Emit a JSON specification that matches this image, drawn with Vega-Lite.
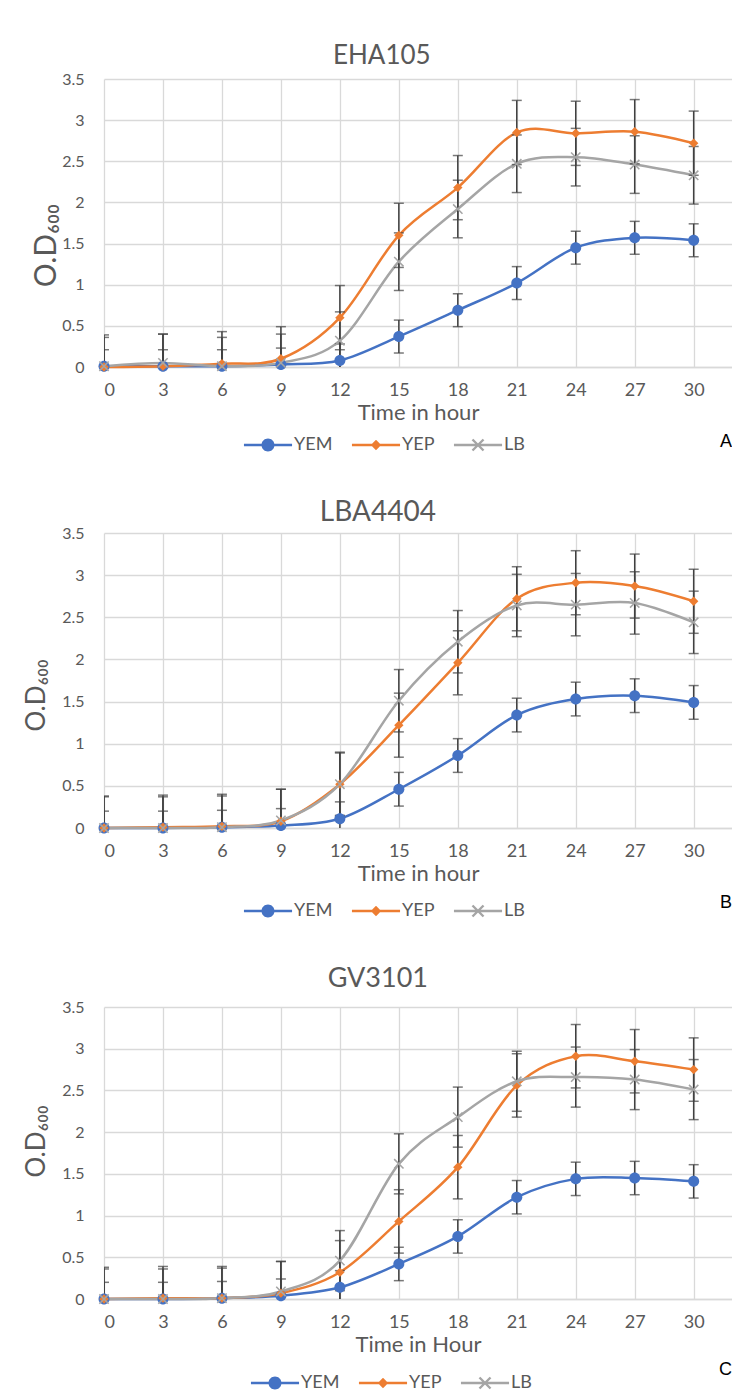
{
  "$schema": "https://vega.github.io/schema/vega-lite/v6.json",
  "background": "white",
  "padding": {"left": 23, "top": 43, "right": 0, "bottom": 0},
  "spacing": 45,
  "resolve": {"scale": {"color": "independent", "shape": "independent"}, "legend": {"color": "independent", "shape": "independent"}},
  "datasets": {
    "growth": [
      {"strain": "EHA105", "medium": "YEM", "hour": 0, "od": 0.01, "lo": -0.19, "hi": 0.21},
      {"strain": "EHA105", "medium": "YEM", "hour": 3, "od": 0.01, "lo": -0.19, "hi": 0.21},
      {"strain": "EHA105", "medium": "YEM", "hour": 6, "od": 0.01, "lo": -0.19, "hi": 0.21},
      {"strain": "EHA105", "medium": "YEM", "hour": 9, "od": 0.03, "lo": -0.17, "hi": 0.23},
      {"strain": "EHA105", "medium": "YEM", "hour": 12, "od": 0.08, "lo": -0.12, "hi": 0.28},
      {"strain": "EHA105", "medium": "YEM", "hour": 15, "od": 0.37, "lo": 0.17, "hi": 0.57},
      {"strain": "EHA105", "medium": "YEM", "hour": 18, "od": 0.69, "lo": 0.49, "hi": 0.89},
      {"strain": "EHA105", "medium": "YEM", "hour": 21, "od": 1.02, "lo": 0.82, "hi": 1.22},
      {"strain": "EHA105", "medium": "YEM", "hour": 24, "od": 1.45, "lo": 1.25, "hi": 1.65},
      {"strain": "EHA105", "medium": "YEM", "hour": 27, "od": 1.57, "lo": 1.37, "hi": 1.77},
      {"strain": "EHA105", "medium": "YEM", "hour": 30, "od": 1.54, "lo": 1.34, "hi": 1.74},
      {"strain": "EHA105", "medium": "YEP", "hour": 0, "od": 0.0, "lo": -0.39, "hi": 0.39},
      {"strain": "EHA105", "medium": "YEP", "hour": 3, "od": 0.01, "lo": -0.38, "hi": 0.40},
      {"strain": "EHA105", "medium": "YEP", "hour": 6, "od": 0.04, "lo": -0.35, "hi": 0.43},
      {"strain": "EHA105", "medium": "YEP", "hour": 9, "od": 0.10, "lo": -0.29, "hi": 0.49},
      {"strain": "EHA105", "medium": "YEP", "hour": 12, "od": 0.60, "lo": 0.21, "hi": 0.99},
      {"strain": "EHA105", "medium": "YEP", "hour": 15, "od": 1.60, "lo": 1.21, "hi": 1.99},
      {"strain": "EHA105", "medium": "YEP", "hour": 18, "od": 2.18, "lo": 1.79, "hi": 2.57},
      {"strain": "EHA105", "medium": "YEP", "hour": 21, "od": 2.85, "lo": 2.46, "hi": 3.24},
      {"strain": "EHA105", "medium": "YEP", "hour": 24, "od": 2.84, "lo": 2.45, "hi": 3.23},
      {"strain": "EHA105", "medium": "YEP", "hour": 27, "od": 2.86, "lo": 2.47, "hi": 3.25},
      {"strain": "EHA105", "medium": "YEP", "hour": 30, "od": 2.72, "lo": 2.33, "hi": 3.11},
      {"strain": "EHA105", "medium": "LB", "hour": 0, "od": 0.01, "lo": -0.34, "hi": 0.36},
      {"strain": "EHA105", "medium": "LB", "hour": 3, "od": 0.05, "lo": -0.30, "hi": 0.40},
      {"strain": "EHA105", "medium": "LB", "hour": 6, "od": 0.01, "lo": -0.34, "hi": 0.36},
      {"strain": "EHA105", "medium": "LB", "hour": 9, "od": 0.05, "lo": -0.30, "hi": 0.40},
      {"strain": "EHA105", "medium": "LB", "hour": 12, "od": 0.32, "lo": -0.03, "hi": 0.67},
      {"strain": "EHA105", "medium": "LB", "hour": 15, "od": 1.28, "lo": 0.93, "hi": 1.63},
      {"strain": "EHA105", "medium": "LB", "hour": 18, "od": 1.92, "lo": 1.57, "hi": 2.27},
      {"strain": "EHA105", "medium": "LB", "hour": 21, "od": 2.47, "lo": 2.12, "hi": 2.82},
      {"strain": "EHA105", "medium": "LB", "hour": 24, "od": 2.55, "lo": 2.20, "hi": 2.90},
      {"strain": "EHA105", "medium": "LB", "hour": 27, "od": 2.46, "lo": 2.11, "hi": 2.81},
      {"strain": "EHA105", "medium": "LB", "hour": 30, "od": 2.33, "lo": 1.98, "hi": 2.68},

      {"strain": "LBA4404", "medium": "YEM", "hour": 0, "od": 0.0, "lo": -0.20, "hi": 0.20},
      {"strain": "LBA4404", "medium": "YEM", "hour": 3, "od": 0.0, "lo": -0.20, "hi": 0.20},
      {"strain": "LBA4404", "medium": "YEM", "hour": 6, "od": 0.01, "lo": -0.19, "hi": 0.21},
      {"strain": "LBA4404", "medium": "YEM", "hour": 9, "od": 0.03, "lo": -0.17, "hi": 0.23},
      {"strain": "LBA4404", "medium": "YEM", "hour": 12, "od": 0.11, "lo": -0.09, "hi": 0.31},
      {"strain": "LBA4404", "medium": "YEM", "hour": 15, "od": 0.46, "lo": 0.26, "hi": 0.66},
      {"strain": "LBA4404", "medium": "YEM", "hour": 18, "od": 0.86, "lo": 0.66, "hi": 1.06},
      {"strain": "LBA4404", "medium": "YEM", "hour": 21, "od": 1.34, "lo": 1.14, "hi": 1.54},
      {"strain": "LBA4404", "medium": "YEM", "hour": 24, "od": 1.53, "lo": 1.33, "hi": 1.73},
      {"strain": "LBA4404", "medium": "YEM", "hour": 27, "od": 1.57, "lo": 1.37, "hi": 1.77},
      {"strain": "LBA4404", "medium": "YEM", "hour": 30, "od": 1.49, "lo": 1.29, "hi": 1.69},
      {"strain": "LBA4404", "medium": "YEP", "hour": 0, "od": 0.0, "lo": -0.38, "hi": 0.38},
      {"strain": "LBA4404", "medium": "YEP", "hour": 3, "od": 0.01, "lo": -0.37, "hi": 0.39},
      {"strain": "LBA4404", "medium": "YEP", "hour": 6, "od": 0.02, "lo": -0.36, "hi": 0.40},
      {"strain": "LBA4404", "medium": "YEP", "hour": 9, "od": 0.08, "lo": -0.30, "hi": 0.46},
      {"strain": "LBA4404", "medium": "YEP", "hour": 12, "od": 0.52, "lo": 0.14, "hi": 0.90},
      {"strain": "LBA4404", "medium": "YEP", "hour": 15, "od": 1.22, "lo": 0.84, "hi": 1.60},
      {"strain": "LBA4404", "medium": "YEP", "hour": 18, "od": 1.96, "lo": 1.58, "hi": 2.34},
      {"strain": "LBA4404", "medium": "YEP", "hour": 21, "od": 2.72, "lo": 2.34, "hi": 3.10},
      {"strain": "LBA4404", "medium": "YEP", "hour": 24, "od": 2.91, "lo": 2.53, "hi": 3.29},
      {"strain": "LBA4404", "medium": "YEP", "hour": 27, "od": 2.87, "lo": 2.49, "hi": 3.25},
      {"strain": "LBA4404", "medium": "YEP", "hour": 30, "od": 2.69, "lo": 2.31, "hi": 3.07},
      {"strain": "LBA4404", "medium": "LB", "hour": 0, "od": 0.0, "lo": -0.37, "hi": 0.37},
      {"strain": "LBA4404", "medium": "LB", "hour": 3, "od": 0.0, "lo": -0.37, "hi": 0.37},
      {"strain": "LBA4404", "medium": "LB", "hour": 6, "od": 0.01, "lo": -0.36, "hi": 0.38},
      {"strain": "LBA4404", "medium": "LB", "hour": 9, "od": 0.09, "lo": -0.28, "hi": 0.46},
      {"strain": "LBA4404", "medium": "LB", "hour": 12, "od": 0.52, "lo": 0.15, "hi": 0.89},
      {"strain": "LBA4404", "medium": "LB", "hour": 15, "od": 1.51, "lo": 1.14, "hi": 1.88},
      {"strain": "LBA4404", "medium": "LB", "hour": 18, "od": 2.21, "lo": 1.84, "hi": 2.58},
      {"strain": "LBA4404", "medium": "LB", "hour": 21, "od": 2.64, "lo": 2.27, "hi": 3.01},
      {"strain": "LBA4404", "medium": "LB", "hour": 24, "od": 2.65, "lo": 2.28, "hi": 3.02},
      {"strain": "LBA4404", "medium": "LB", "hour": 27, "od": 2.67, "lo": 2.30, "hi": 3.04},
      {"strain": "LBA4404", "medium": "LB", "hour": 30, "od": 2.44, "lo": 2.07, "hi": 2.81},

      {"strain": "GV3101", "medium": "YEM", "hour": 0, "od": 0.0, "lo": -0.20, "hi": 0.20},
      {"strain": "GV3101", "medium": "YEM", "hour": 3, "od": 0.0, "lo": -0.20, "hi": 0.20},
      {"strain": "GV3101", "medium": "YEM", "hour": 6, "od": 0.01, "lo": -0.19, "hi": 0.21},
      {"strain": "GV3101", "medium": "YEM", "hour": 9, "od": 0.04, "lo": -0.16, "hi": 0.24},
      {"strain": "GV3101", "medium": "YEM", "hour": 12, "od": 0.14, "lo": -0.06, "hi": 0.34},
      {"strain": "GV3101", "medium": "YEM", "hour": 15, "od": 0.42, "lo": 0.22, "hi": 0.62},
      {"strain": "GV3101", "medium": "YEM", "hour": 18, "od": 0.75, "lo": 0.55, "hi": 0.95},
      {"strain": "GV3101", "medium": "YEM", "hour": 21, "od": 1.22, "lo": 1.02, "hi": 1.42},
      {"strain": "GV3101", "medium": "YEM", "hour": 24, "od": 1.44, "lo": 1.24, "hi": 1.64},
      {"strain": "GV3101", "medium": "YEM", "hour": 27, "od": 1.45, "lo": 1.25, "hi": 1.65},
      {"strain": "GV3101", "medium": "YEM", "hour": 30, "od": 1.41, "lo": 1.21, "hi": 1.61},
      {"strain": "GV3101", "medium": "YEP", "hour": 0, "od": 0.0, "lo": -0.38, "hi": 0.38},
      {"strain": "GV3101", "medium": "YEP", "hour": 3, "od": 0.01, "lo": -0.37, "hi": 0.39},
      {"strain": "GV3101", "medium": "YEP", "hour": 6, "od": 0.01, "lo": -0.37, "hi": 0.39},
      {"strain": "GV3101", "medium": "YEP", "hour": 9, "od": 0.07, "lo": -0.31, "hi": 0.45},
      {"strain": "GV3101", "medium": "YEP", "hour": 12, "od": 0.32, "lo": -0.06, "hi": 0.70},
      {"strain": "GV3101", "medium": "YEP", "hour": 15, "od": 0.93, "lo": 0.55, "hi": 1.31},
      {"strain": "GV3101", "medium": "YEP", "hour": 18, "od": 1.58, "lo": 1.20, "hi": 1.96},
      {"strain": "GV3101", "medium": "YEP", "hour": 21, "od": 2.56, "lo": 2.18, "hi": 2.94},
      {"strain": "GV3101", "medium": "YEP", "hour": 24, "od": 2.91, "lo": 2.53, "hi": 3.29},
      {"strain": "GV3101", "medium": "YEP", "hour": 27, "od": 2.85, "lo": 2.47, "hi": 3.23},
      {"strain": "GV3101", "medium": "YEP", "hour": 30, "od": 2.75, "lo": 2.37, "hi": 3.13},
      {"strain": "GV3101", "medium": "LB", "hour": 0, "od": 0.0, "lo": -0.36, "hi": 0.36},
      {"strain": "GV3101", "medium": "LB", "hour": 3, "od": 0.0, "lo": -0.36, "hi": 0.36},
      {"strain": "GV3101", "medium": "LB", "hour": 6, "od": 0.01, "lo": -0.35, "hi": 0.37},
      {"strain": "GV3101", "medium": "LB", "hour": 9, "od": 0.09, "lo": -0.27, "hi": 0.45},
      {"strain": "GV3101", "medium": "LB", "hour": 12, "od": 0.46, "lo": 0.10, "hi": 0.82},
      {"strain": "GV3101", "medium": "LB", "hour": 15, "od": 1.62, "lo": 1.26, "hi": 1.98},
      {"strain": "GV3101", "medium": "LB", "hour": 18, "od": 2.18, "lo": 1.82, "hi": 2.54},
      {"strain": "GV3101", "medium": "LB", "hour": 21, "od": 2.61, "lo": 2.25, "hi": 2.97},
      {"strain": "GV3101", "medium": "LB", "hour": 24, "od": 2.66, "lo": 2.30, "hi": 3.02},
      {"strain": "GV3101", "medium": "LB", "hour": 27, "od": 2.63, "lo": 2.27, "hi": 2.99},
      {"strain": "GV3101", "medium": "LB", "hour": 30, "od": 2.51, "lo": 2.15, "hi": 2.87}
    ]
  },
  "vconcat": [
    {
      "title": {"text": "A", "orient": "bottom", "anchor": "end", "offset": -21, "font": "Liberation Sans", "fontSize": 18, "fontWeight": "normal", "color": "#000000"},
      "resolve": {"scale": {"color": "independent", "shape": "independent"}, "legend": {"color": "independent", "shape": "independent"}},
      "vconcat": [
        {
          "width": 628, "height": 288,
          "title": {"text": "EHA105", "fontSize": 26, "frame": "bounds", "offset": 2},
          "data": {"name": "growth"},
          "transform": [{"filter": "datum.strain === 'EHA105'"}],
          "encoding": {
            "x": {"field": "hour", "type": "quantitative", "scale": {"domain": [0, 31.95], "nice": false, "zero": false},
              "axis": {"values": [0, 3, 6, 9, 12, 15, 18, 21, 24, 27, 30], "title": "Time in hour", "labelFontSize": 18, "titleFontSize": 22, "labelPadding": 14, "titlePadding": 3, "grid": true, "ticks": false, "domain": true, "domainColor": "#d9d9d9", "domainWidth": 1.5}}
          },
          "layer": [
            {"transform": [{"filter": "datum.medium === 'YEM'"}],
             "mark": {"type": "line", "interpolate": "cardinal", "strokeWidth": 2.5, "color": "#4472C4"},
             "encoding": {
               "y": {"field": "od", "type": "quantitative", "scale": {"domain": [0, 3.5], "nice": false},
                 "axis": {"values": [0, 0.5, 1, 1.5, 2, 2.5, 3, 3.5], "format": "~g", "title": "O.D₆₀₀", "titleFontSize": 30, "titleY": 166, "labelFontSize": 16, "labelPadding": 20, "titlePadding": 0, "grid": true, "ticks": false, "domain": false}}
             }},
            {"transform": [{"filter": "datum.medium === 'YEP'"}],
             "mark": {"type": "line", "interpolate": "cardinal", "strokeWidth": 2.5, "color": "#ED7D31"},
             "encoding": {"y": {"field": "od", "type": "quantitative", "title": "O.D₆₀₀"}}},
            {"transform": [{"filter": "datum.medium === 'LB'"}],
             "mark": {"type": "line", "interpolate": "cardinal", "strokeWidth": 2.5, "color": "#A5A5A5"},
             "encoding": {"y": {"field": "od", "type": "quantitative", "title": "O.D₆₀₀"}}},
            {"mark": {"type": "rule", "color": "#404040", "strokeWidth": 1.5, "clip": true},
             "encoding": {"y": {"field": "lo", "type": "quantitative", "title": "O.D₆₀₀"}, "y2": {"field": "hi"}}},
            {"mark": {"type": "tick", "orient": "horizontal", "size": 10, "thickness": 1.5, "color": "#404040", "clip": true},
             "encoding": {"y": {"field": "hi", "type": "quantitative", "title": "O.D₆₀₀"}}},
            {"mark": {"type": "tick", "orient": "horizontal", "size": 10, "thickness": 1.5, "color": "#404040", "clip": true},
             "encoding": {"y": {"field": "lo", "type": "quantitative", "title": "O.D₆₀₀"}}},
            {"transform": [{"filter": "datum.medium === 'YEM'"}],
             "mark": {"type": "point", "filled": true, "opacity": 1, "size": 121, "strokeWidth": 0, "color": "#4472C4", "shape": "M1,0A1,1 0 1,1 -1,0A1,1 0 1,1 1,0Z"},
             "encoding": {"y": {"field": "od", "type": "quantitative", "title": "O.D₆₀₀"}}},
            {"transform": [{"filter": "datum.medium === 'YEP'"}],
             "mark": {"type": "point", "filled": true, "opacity": 1, "size": 121, "strokeWidth": 0, "color": "#ED7D31", "shape": "M0,-0.85L0.85,0L0,0.85L-0.85,0Z"},
             "encoding": {"y": {"field": "od", "type": "quantitative", "title": "O.D₆₀₀"}}},
            {"transform": [{"filter": "datum.medium === 'LB'"}],
             "mark": {"type": "point", "filled": true, "opacity": 1, "size": 121, "strokeWidth": 0, "color": "#A5A5A5", "shape": "M-0.75,-0.95L0.95,0.75L0.75,0.95L-0.95,-0.75ZM0.95,-0.75L-0.75,0.95L-0.95,0.75L0.75,-0.95Z"},
             "encoding": {"y": {"field": "od", "type": "quantitative", "title": "O.D₆₀₀"}}},
            {"mark": {"type": "point", "filled": true, "opacity": 0, "size": 121, "strokeWidth": 0},
             "encoding": {
               "y": {"field": "od", "type": "quantitative", "title": "O.D₆₀₀"},
               "color": {"field": "medium", "type": "nominal", "scale": {"domain": ["YEM", "YEP", "LB"], "range": ["#4472C4", "#ED7D31", "#A5A5A5"]},
                 "legend": {"title": null, "orient": "none", "legendX": 155, "legendY": 357, "direction": "horizontal", "labelFontSize": 18, "labelColor": "#595959", "labelFont": "Lato", "symbolSize": 169, "symbolStrokeWidth": 0, "symbolOpacity": 1, "labelOffset": 17, "columnPadding": 18}},
               "shape": {"field": "medium", "type": "nominal", "scale": {"domain": ["YEM", "YEP", "LB"], "range": ["M-3.7,-0.2H3.7V0.2H-3.7ZM1,0A1,1 0 1,1 -1,0A1,1 0 1,1 1,0Z", "M-3.7,-0.2H3.7V0.2H-3.7ZM0,-0.8L0.8,0L0,0.8L-0.8,0Z", "M-3.7,-0.2H3.7V0.2H-3.7ZM-0.72,-0.98L0.98,0.72L0.72,0.98L-0.98,-0.72ZM0.98,-0.72L-0.72,0.98L-0.98,0.72L0.72,-0.98Z"]},
                 "legend": {"title": null, "orient": "none", "legendX": 155, "legendY": 357, "direction": "horizontal", "labelFontSize": 18, "labelColor": "#595959", "labelFont": "Lato", "symbolSize": 169, "symbolStrokeWidth": 0, "symbolOpacity": 1, "labelOffset": 17, "columnPadding": 18}}
             }}
          ]
        }
      ]
    },
    {
      "title": {"text": "B", "orient": "bottom", "anchor": "end", "offset": -26, "font": "Liberation Sans", "fontSize": 18, "fontWeight": "normal", "color": "#000000"},
      "resolve": {"scale": {"color": "independent", "shape": "independent"}, "legend": {"color": "independent", "shape": "independent"}},
      "vconcat": [
        {
          "width": 628, "height": 295,
          "title": {"text": "LBA4404", "fontSize": 28, "frame": "bounds", "offset": -2},
          "data": {"name": "growth"},
          "transform": [{"filter": "datum.strain === 'LBA4404'"}],
          "encoding": {
            "x": {"field": "hour", "type": "quantitative", "scale": {"domain": [0, 31.95], "nice": false, "zero": false},
              "axis": {"values": [0, 3, 6, 9, 12, 15, 18, 21, 24, 27, 30], "title": "Time in hour", "labelFontSize": 18, "titleFontSize": 22, "labelPadding": 14, "titlePadding": 3, "grid": true, "ticks": false, "domain": true, "domainColor": "#d9d9d9", "domainWidth": 1.5}}
          },
          "layer": [
            {"transform": [{"filter": "datum.medium === 'YEM'"}],
             "mark": {"type": "line", "interpolate": "cardinal", "strokeWidth": 2.5, "color": "#4472C4"},
             "encoding": {
               "y": {"field": "od", "type": "quantitative", "scale": {"domain": [0, 3.5], "nice": false},
                 "axis": {"values": [0, 0.5, 1, 1.5, 2, 2.5, 3, 3.5], "format": "~g", "title": "O.D₆₀₀", "titleFontSize": 26, "titleY": 162, "labelFontSize": 16, "labelPadding": 20, "titlePadding": 12, "grid": true, "ticks": false, "domain": false}}
             }},
            {"transform": [{"filter": "datum.medium === 'YEP'"}],
             "mark": {"type": "line", "interpolate": "cardinal", "strokeWidth": 2.5, "color": "#ED7D31"},
             "encoding": {"y": {"field": "od", "type": "quantitative", "title": "O.D₆₀₀"}}},
            {"transform": [{"filter": "datum.medium === 'LB'"}],
             "mark": {"type": "line", "interpolate": "cardinal", "strokeWidth": 2.5, "color": "#A5A5A5"},
             "encoding": {"y": {"field": "od", "type": "quantitative", "title": "O.D₆₀₀"}}},
            {"mark": {"type": "rule", "color": "#404040", "strokeWidth": 1.5, "clip": true},
             "encoding": {"y": {"field": "lo", "type": "quantitative", "title": "O.D₆₀₀"}, "y2": {"field": "hi"}}},
            {"mark": {"type": "tick", "orient": "horizontal", "size": 10, "thickness": 1.5, "color": "#404040", "clip": true},
             "encoding": {"y": {"field": "hi", "type": "quantitative", "title": "O.D₆₀₀"}}},
            {"mark": {"type": "tick", "orient": "horizontal", "size": 10, "thickness": 1.5, "color": "#404040", "clip": true},
             "encoding": {"y": {"field": "lo", "type": "quantitative", "title": "O.D₆₀₀"}}},
            {"transform": [{"filter": "datum.medium === 'YEM'"}],
             "mark": {"type": "point", "filled": true, "opacity": 1, "size": 121, "strokeWidth": 0, "color": "#4472C4", "shape": "M1,0A1,1 0 1,1 -1,0A1,1 0 1,1 1,0Z"},
             "encoding": {"y": {"field": "od", "type": "quantitative", "title": "O.D₆₀₀"}}},
            {"transform": [{"filter": "datum.medium === 'YEP'"}],
             "mark": {"type": "point", "filled": true, "opacity": 1, "size": 121, "strokeWidth": 0, "color": "#ED7D31", "shape": "M0,-0.85L0.85,0L0,0.85L-0.85,0Z"},
             "encoding": {"y": {"field": "od", "type": "quantitative", "title": "O.D₆₀₀"}}},
            {"transform": [{"filter": "datum.medium === 'LB'"}],
             "mark": {"type": "point", "filled": true, "opacity": 1, "size": 121, "strokeWidth": 0, "color": "#A5A5A5", "shape": "M-0.75,-0.95L0.95,0.75L0.75,0.95L-0.95,-0.75ZM0.95,-0.75L-0.75,0.95L-0.95,0.75L0.75,-0.95Z"},
             "encoding": {"y": {"field": "od", "type": "quantitative", "title": "O.D₆₀₀"}}},
            {"mark": {"type": "point", "filled": true, "opacity": 0, "size": 121, "strokeWidth": 0},
             "encoding": {
               "y": {"field": "od", "type": "quantitative", "title": "O.D₆₀₀"},
               "color": {"field": "medium", "type": "nominal", "scale": {"domain": ["YEM", "YEP", "LB"], "range": ["#4472C4", "#ED7D31", "#A5A5A5"]},
                 "legend": {"title": null, "orient": "none", "legendX": 155, "legendY": 369, "direction": "horizontal", "labelFontSize": 18, "labelColor": "#595959", "labelFont": "Lato", "symbolSize": 169, "symbolStrokeWidth": 0, "symbolOpacity": 1, "labelOffset": 17, "columnPadding": 18}},
               "shape": {"field": "medium", "type": "nominal", "scale": {"domain": ["YEM", "YEP", "LB"], "range": ["M-3.7,-0.2H3.7V0.2H-3.7ZM1,0A1,1 0 1,1 -1,0A1,1 0 1,1 1,0Z", "M-3.7,-0.2H3.7V0.2H-3.7ZM0,-0.8L0.8,0L0,0.8L-0.8,0Z", "M-3.7,-0.2H3.7V0.2H-3.7ZM-0.72,-0.98L0.98,0.72L0.72,0.98L-0.98,-0.72ZM0.98,-0.72L-0.72,0.98L-0.98,0.72L0.72,-0.98Z"]},
                 "legend": {"title": null, "orient": "none", "legendX": 155, "legendY": 369, "direction": "horizontal", "labelFontSize": 18, "labelColor": "#595959", "labelFont": "Lato", "symbolSize": 169, "symbolStrokeWidth": 0, "symbolOpacity": 1, "labelOffset": 17, "columnPadding": 18}}
             }}
          ]
        }
      ]
    },
    {
      "title": {"text": "C", "orient": "bottom", "anchor": "end", "offset": -31, "font": "Liberation Sans", "fontSize": 18, "fontWeight": "normal", "color": "#000000"},
      "resolve": {"scale": {"color": "independent", "shape": "independent"}, "legend": {"color": "independent", "shape": "independent"}},
      "vconcat": [
        {
          "width": 628, "height": 292,
          "title": {"text": "GV3101", "fontSize": 27, "frame": "bounds", "offset": 6},
          "data": {"name": "growth"},
          "transform": [{"filter": "datum.strain === 'GV3101'"}],
          "encoding": {
            "x": {"field": "hour", "type": "quantitative", "scale": {"domain": [0, 31.95], "nice": false, "zero": false},
              "axis": {"values": [0, 3, 6, 9, 12, 15, 18, 21, 24, 27, 30], "title": "Time in Hour", "labelFontSize": 18, "titleFontSize": 22, "labelPadding": 14, "titlePadding": 3, "grid": true, "ticks": false, "domain": true, "domainColor": "#d9d9d9", "domainWidth": 1.5}}
          },
          "layer": [
            {"transform": [{"filter": "datum.medium === 'YEM'"}],
             "mark": {"type": "line", "interpolate": "cardinal", "strokeWidth": 2.5, "color": "#4472C4"},
             "encoding": {
               "y": {"field": "od", "type": "quantitative", "scale": {"domain": [0, 3.5], "nice": false},
                 "axis": {"values": [0, 0.5, 1, 1.5, 2, 2.5, 3, 3.5], "format": "~g", "title": "O.D₆₀₀", "titleFontSize": 26, "titleY": 134, "labelFontSize": 16, "labelPadding": 20, "titlePadding": 12, "grid": true, "ticks": false, "domain": false}}
             }},
            {"transform": [{"filter": "datum.medium === 'YEP'"}],
             "mark": {"type": "line", "interpolate": "cardinal", "strokeWidth": 2.5, "color": "#ED7D31"},
             "encoding": {"y": {"field": "od", "type": "quantitative", "title": "O.D₆₀₀"}}},
            {"transform": [{"filter": "datum.medium === 'LB'"}],
             "mark": {"type": "line", "interpolate": "cardinal", "strokeWidth": 2.5, "color": "#A5A5A5"},
             "encoding": {"y": {"field": "od", "type": "quantitative", "title": "O.D₆₀₀"}}},
            {"mark": {"type": "rule", "color": "#404040", "strokeWidth": 1.5, "clip": true},
             "encoding": {"y": {"field": "lo", "type": "quantitative", "title": "O.D₆₀₀"}, "y2": {"field": "hi"}}},
            {"mark": {"type": "tick", "orient": "horizontal", "size": 10, "thickness": 1.5, "color": "#404040", "clip": true},
             "encoding": {"y": {"field": "hi", "type": "quantitative", "title": "O.D₆₀₀"}}},
            {"mark": {"type": "tick", "orient": "horizontal", "size": 10, "thickness": 1.5, "color": "#404040", "clip": true},
             "encoding": {"y": {"field": "lo", "type": "quantitative", "title": "O.D₆₀₀"}}},
            {"transform": [{"filter": "datum.medium === 'YEM'"}],
             "mark": {"type": "point", "filled": true, "opacity": 1, "size": 121, "strokeWidth": 0, "color": "#4472C4", "shape": "M1,0A1,1 0 1,1 -1,0A1,1 0 1,1 1,0Z"},
             "encoding": {"y": {"field": "od", "type": "quantitative", "title": "O.D₆₀₀"}}},
            {"transform": [{"filter": "datum.medium === 'YEP'"}],
             "mark": {"type": "point", "filled": true, "opacity": 1, "size": 121, "strokeWidth": 0, "color": "#ED7D31", "shape": "M0,-0.85L0.85,0L0,0.85L-0.85,0Z"},
             "encoding": {"y": {"field": "od", "type": "quantitative", "title": "O.D₆₀₀"}}},
            {"transform": [{"filter": "datum.medium === 'LB'"}],
             "mark": {"type": "point", "filled": true, "opacity": 1, "size": 121, "strokeWidth": 0, "color": "#A5A5A5", "shape": "M-0.75,-0.95L0.95,0.75L0.75,0.95L-0.95,-0.75ZM0.95,-0.75L-0.75,0.95L-0.95,0.75L0.75,-0.95Z"},
             "encoding": {"y": {"field": "od", "type": "quantitative", "title": "O.D₆₀₀"}}},
            {"mark": {"type": "point", "filled": true, "opacity": 0, "size": 121, "strokeWidth": 0},
             "encoding": {
               "y": {"field": "od", "type": "quantitative", "title": "O.D₆₀₀"},
               "color": {"field": "medium", "type": "nominal", "scale": {"domain": ["YEM", "YEP", "LB"], "range": ["#4472C4", "#ED7D31", "#A5A5A5"]},
                 "legend": {"title": null, "orient": "none", "legendX": 162, "legendY": 367, "direction": "horizontal", "labelFontSize": 18, "labelColor": "#595959", "labelFont": "Lato", "symbolSize": 169, "symbolStrokeWidth": 0, "symbolOpacity": 1, "labelOffset": 17, "columnPadding": 18}},
               "shape": {"field": "medium", "type": "nominal", "scale": {"domain": ["YEM", "YEP", "LB"], "range": ["M-3.7,-0.2H3.7V0.2H-3.7ZM1,0A1,1 0 1,1 -1,0A1,1 0 1,1 1,0Z", "M-3.7,-0.2H3.7V0.2H-3.7ZM0,-0.8L0.8,0L0,0.8L-0.8,0Z", "M-3.7,-0.2H3.7V0.2H-3.7ZM-0.72,-0.98L0.98,0.72L0.72,0.98L-0.98,-0.72ZM0.98,-0.72L-0.72,0.98L-0.98,0.72L0.72,-0.98Z"]},
                 "legend": {"title": null, "orient": "none", "legendX": 162, "legendY": 367, "direction": "horizontal", "labelFontSize": 18, "labelColor": "#595959", "labelFont": "Lato", "symbolSize": 169, "symbolStrokeWidth": 0, "symbolOpacity": 1, "labelOffset": 17, "columnPadding": 18}}
             }}
          ]
        }
      ]
    }
  ],
  "config": {
    "font": "Lato",
    "view": {"stroke": null},
    "axis": {"labelColor": "#595959", "titleColor": "#595959", "titleFontWeight": "normal", "gridColor": "#d9d9d9", "gridWidth": 1.3, "labelFont": "Lato", "titleFont": "Lato, DejaVu Sans"},
    "title": {"color": "#595959", "fontWeight": "normal", "font": "Lato"}
  }
}
